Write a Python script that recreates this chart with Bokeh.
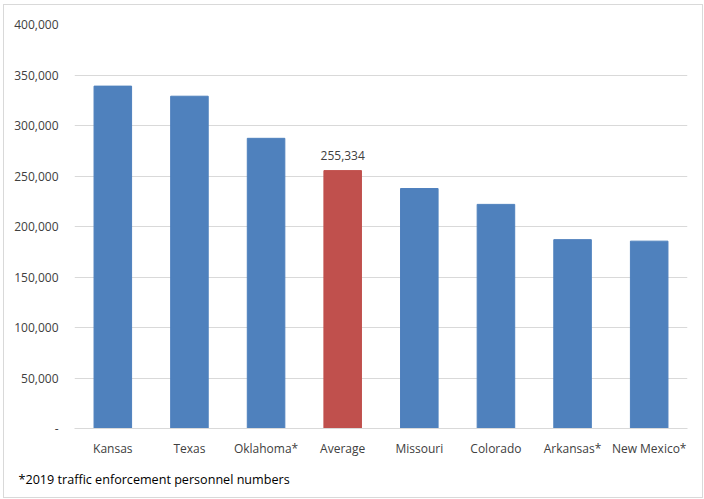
from bokeh.plotting import figure
from bokeh.models import ColumnDataSource, FixedTicker, CustomJSTickFormatter, Label, Title, Range1d, InlineStyleSheet
from bokeh.embed import file_html
from bokeh.resources import INLINE

states = ["Kansas", "Texas", "Oklahoma*", "Average", "Missouri", "Colorado", "Arkansas*", "New Mexico*"]
values = [339000, 329000, 287300, 255334, 237600, 221900, 187000, 185500]
colors = ["#4F81BD", "#4F81BD", "#4F81BD", "#C0504D", "#4F81BD", "#4F81BD", "#4F81BD", "#4F81BD"]
y_ticks = [0, 50000, 100000, 150000, 200000, 250000, 300000, 350000, 400000]
avg_label = "255,334"
footnote = "*2019 traffic enforcement personnel numbers"

FONT = "Open Sans"

src = ColumnDataSource(dict(x=states, top=values, color=colors))

p = figure(x_range=states, y_range=Range1d(0, 400000), width=698, height=492,
           output_backend="svg", toolbar_location=None,
           min_border_left=70, min_border_right=15, min_border_top=19, min_border_bottom=69,
           margin=(5, 0, 0, 4),
           stylesheets=[InlineStyleSheet(css=":host { outline: 1px solid #d9d9d9; }")])
p.vbar(x="x", top="top", width=0.49, color="color", source=src)

p.outline_line_color = None
p.xgrid.grid_line_color = None
p.ygrid.grid_line_color = "#d9d9d9"
p.ygrid.grid_line_width = 1
p.yaxis.ticker = FixedTicker(ticks=y_ticks)
p.yaxis.formatter = CustomJSTickFormatter(code="return tick == 0 ? '-' : tick.toLocaleString('en-US');")
p.yaxis.axis_line_color = None
p.yaxis.major_tick_line_color = None
p.yaxis.minor_tick_line_color = None
p.yaxis.major_label_standoff = 10
p.yaxis.major_label_text_font = FONT
p.yaxis.major_label_text_font_size = "12px"
p.yaxis.major_label_text_color = "#404040"

p.xaxis.axis_line_color = "#d9d9d9"
p.xaxis.major_tick_line_color = None
p.xaxis.minor_tick_line_color = None
p.xaxis.major_label_standoff = 5
p.xaxis.major_label_text_font = FONT
p.xaxis.major_label_text_font_size = "12px"
p.xaxis.major_label_text_color = "#404040"

lab = Label(x=3.5, y=values[3], text=avg_label, text_align="center", text_baseline="bottom",
            y_offset=11, text_font=FONT, text_font_size="12px", text_color="#404040")
p.add_layout(lab)

t = Title(text=footnote, align="left", text_font=FONT, text_font_size="12.6px",
          text_font_style="normal", text_color="#000000", offset=-56, standoff=19)
p.add_layout(t, "below")

open("out.html", "w").write(file_html(p, INLINE))
